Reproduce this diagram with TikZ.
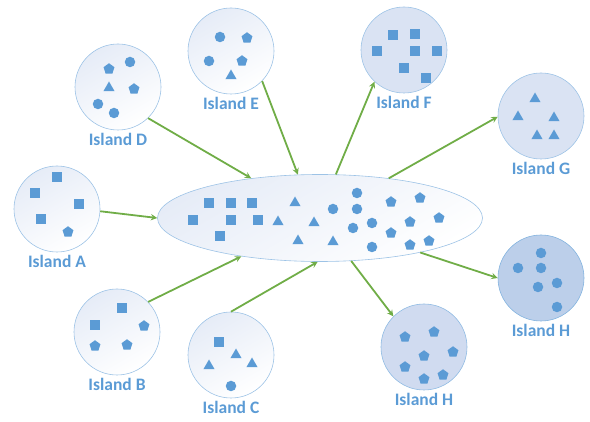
\documentclass[tikz,border=0pt]{standalone}
\usepackage{xcolor}
\usepackage{fontspec}
\setmainfont{Carlito}
\usepackage{tikz}
\usetikzlibrary{shadows,arrows,shapes,positioning}
\definecolor{itemblue}{HTML}{5B9BD5}
\definecolor{rimblue}{HTML}{9DC3E6}
\definecolor{paleblue}{HTML}{E6ECF7}
\definecolor{lavblue}{HTML}{DAE3F3}
\definecolor{midblue}{HTML}{D0DBF0}
\definecolor{deepblue}{HTML}{BCCFEA}
\definecolor{linkgreen}{HTML}{70AD47}
\tikzset{
  island/.style={draw=rimblue, circle, minimum size=86pt, inner sep=0pt, line width=0.6pt},
  sq/.style={fill=itemblue, rectangle, minimum size=10pt, inner sep=0pt},
  dot/.style={fill=itemblue, circle, minimum size=10.5pt, inner sep=0pt},
  tri/.style={fill=itemblue, regular polygon, regular polygon sides=3, minimum size=13pt, inner sep=0pt},
  pent/.style={fill=itemblue, regular polygon, regular polygon sides=5, minimum size=11.5pt, inner sep=0pt},
  lbl/.style={text=itemblue, font=\fontsize{17.5}{20}\selectfont\bfseries, inner sep=0pt},
  link/.style={->, >=stealth, line width=1.8pt, linkgreen}
}

\begin{document}
\begin{tikzpicture}[x=1pt, y=-1pt]
        \useasboundingbox (0,0) rectangle (590,422);
        % The islands around the pool
        \node[island, top color=paleblue, bottom color=white, shading angle=30] (A) at (57,209) {};
        \node[island, top color=paleblue, bottom color=white, shading angle=30] (B) at (117,332) {};
        \node[island, top color=paleblue, bottom color=white, shading angle=30] (C) at (231,355) {};
        \node[island, top color=paleblue, bottom color=white, shading angle=30] (D) at (118,87) {};
        \node[island, top color=paleblue, bottom color=white, shading angle=30] (E) at (231,51) {};
        \node[island, fill=lavblue] (F) at (404,50) {};
        \node[island, fill=lavblue] (G) at (541,116) {};
        \node[island, fill=midblue, draw=rimblue!80!itemblue] (Hb) at (424,347) {};
        \node[island, fill=deepblue, draw=rimblue!60!itemblue] (Hr) at (541,278) {};

        % The shared pool in the middle
        \node[draw=rimblue, ellipse, line width=0.6pt, minimum width=325pt, minimum height=87pt, inner sep=0pt, top color=paleblue, bottom color=white, shading angle=30] (pool) at (320,218) {};

        % Labels
        \node[lbl, below=3pt of A] (labA) {Island A};
        \node[lbl, below=3pt of B] (labB) {Island B};
        \node[lbl, below=3pt of C] (labC) {Island C};
        \node[lbl, below=3pt of D] (labD) {Island D};
        \node[lbl, below=3pt of E] (labE) {Island E};
        \node[lbl, below=3pt of F] (labF) {Island F};
        \node[lbl, below=3pt of G] (labG) {Island G};
        \node[lbl, below=3pt of Hb] (labHb) {Island H};
        \node[lbl, below=3pt of Hr] (labHr) {Island H};

        % Island A
        \foreach \x/\y [count=\i] in {57/177,35/193,79/204,41/219} \node[sq] (sqA\i) at (\x,\y) {};
        \node[pent] (pentA1) at (68,232) {};
        % Island B
        \foreach \x/\y [count=\i] in {122/308,95/325} \node[sq] (sqB\i) at (\x,\y) {};
        \foreach \x/\y [count=\i] in {144/326,95/346,127/345} \node[pent] (pentB\i) at (\x,\y) {};
        % Island C
        \node[sq] (sqC1) at (219,342) {};
        \foreach \x/\y [count=\i] in {236/355,209/366,252/364} \node[tri] (triC\i) at (\x,\y) {};
        \node[dot] (dotC1) at (231,386) {};
        % Island D
        \foreach \x/\y [count=\i] in {109/69,134/89} \node[pent] (pentD\i) at (\x,\y) {};
        \foreach \x/\y [count=\i] in {130/62,98/104,114/113} \node[dot] (dotD\i) at (\x,\y) {};
        \node[tri] (triD1) at (109,88) {};
        % Island E
        \foreach \x/\y [count=\i] in {220/37,209/61} \node[dot] (dotE\i) at (\x,\y) {};
        \foreach \x/\y [count=\i] in {247/38,242/61} \node[pent] (pentE\i) at (\x,\y) {};
        \node[tri] (triE1) at (231,76) {};
        % Island F
        \foreach \x/\y [count=\i] in {393/35,415/34,377/51,415/51,437/51,404/68,426/78} \node[sq] (sqF\i) at (\x,\y) {};
        % Island G
        \foreach \x/\y [count=\i] in {535/99,518/117,554/118,537/136,554/136} \node[tri] (triG\i) at (\x,\y) {};
        % Island H (bottom)
        \foreach \x/\y [count=\i] in {405/337,434/332,424/356,453/352,405/367,424/379,443/375} \node[pent] (pentHb\i) at (\x,\y) {};
        % Island H (right)
        \foreach \x/\y [count=\i] in {541/253,518/268,541/268,538/287,557/283,557/307} \node[dot] (dotHr\i) at (\x,\y) {};

        % Pool contents
        \foreach \x/\y [count=\i] in {209/203,231/203,252/203,193/220,231/220,258/220,220/236} \node[sq] (sqP\i) at (\x,\y) {};
        \foreach \x/\y [count=\i] in {295/203,278/222,314/223,298/241,333/242} \node[tri] (triP\i) at (\x,\y) {};
        \foreach \x/\y [count=\i] in {357/193,333/209,357/209,372/223,353/228,372/247} \node[dot] (dotP\i) at (\x,\y) {};
        \foreach \x/\y [count=\i] in {391/202,420/198,410/222,439/218,391/233,410/245,429/241} \node[pent] (pentP\i) at (\x,\y) {};

        % Migration arrows
        \draw[link] (A.-3) -- (pool.west);
        \draw[link] (B.44) -- (pool.206);
        \draw[link] (C.north) -- (pool.267);
        \draw[link] (D.-46) -- (pool.150);
        \draw[link] (E.-44) -- (pool.117);
        \draw[link] (pool.70) -- (F.227);
        \draw[link] (pool.30) -- (G.181);
        \draw[link] (pool.-19) -- (Hr.west);
        \draw[link] (pool.-54) -- (Hb.135);
    \end{tikzpicture}
\end{document}
